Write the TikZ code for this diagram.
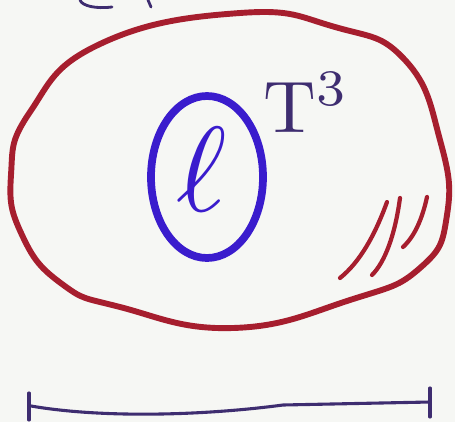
\documentclass[tikz,border=0pt]{standalone}
\usepackage{xcolor}
\definecolor{penred}{RGB}{166,30,46}
\definecolor{penblue}{RGB}{58,28,205}
\definecolor{pennavy}{RGB}{62,45,112}
\definecolor{board}{RGB}{246,247,244}

\begin{document}
\begin{tikzpicture}[x=0.025cm, y=-0.025cm, line cap=round, line join=round] % pixel units, y downwards
            % Board and page size
            \fill[board] (0,0) rectangle (455,422);
            \useasboundingbox (0,0) rectangle (455,422);

            % Cut-off marks at the top edge
            \draw[pennavy, line width=2pt] (80,0) .. controls (82,6) and (96,9) .. (112,7);
            \draw[pennavy, line width=2pt] (148,0) -- (151,7);

            % Outer region
            \draw[penred, line width=4.2pt] plot[smooth cycle, tension=0.8] coordinates {
                (30,112) (100,44) (240,13) (335,27) (405,60)
                (440,140) (447,215) (420,268) (350,300)
                (233,328) (120,307) (62,284)
                (22,235) (11,175)};

            % Hatching in the lower right
            \draw[penred, line width=3pt] (387,202) .. controls (375,235) and (360,262) .. (340,278);
            \draw[penred, line width=3pt] (400,198) .. controls (395,235) and (385,262) .. (372,275);
            \draw[penred, line width=3pt] (427,197) .. controls (422,220) and (414,237) .. (403,247);

            % Inner loop around the knot
            \draw[penblue, line width=5.5pt] (207,177) ellipse [x radius=56, y radius=81];
            \node[text=penblue, scale=8.6] (knot) at (202,170) {$\ell$};

            % Label of the region
            \node[text=pennavy, scale=5.2, anchor=base west, inner sep=0pt] (torus) at (262,132) {$\mathrm{T}^3$};

            % Interval below
            \coordinate (left) at (31,406);
            \coordinate (right) at (430,402);
            \draw[pennavy, line width=2.2pt] (left) .. controls (100,418) and (200,416) .. (283,405) -- (right);
            \draw[pennavy, line width=2.2pt] (29,393) -- (29,420);
            \draw[pennavy, line width=2.2pt] (430,388) -- (430,417);

\end{tikzpicture}
\end{document}
